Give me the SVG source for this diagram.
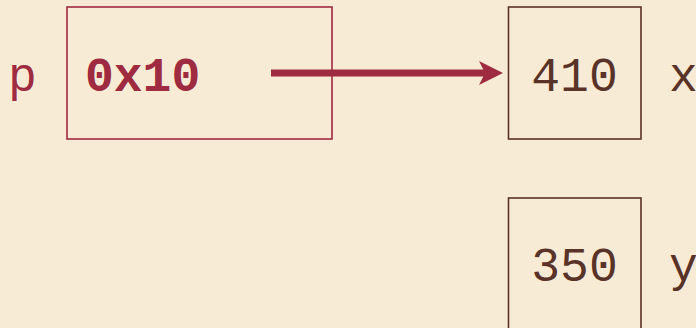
<svg xmlns="http://www.w3.org/2000/svg" width="696" height="328" viewBox="0 0 696 328">
  <defs>
    <style>
      .bg { fill: #F8EBD6; }
      .ptr { fill: none; stroke: #9E2B3F; stroke-width: 1.6; }
      .cell { fill: none; stroke: #5A3328; stroke-width: 1.6; }
      .mono { font-family: "Liberation Mono", "DejaVu Sans Mono", monospace; font-size: 48px; }
      .red { fill: #9E2B3F; }
      .brown { fill: #5A3328; }
      .arrow { stroke: #9E2B3F; stroke-width: 7; fill: none; }
      .arrowhead { fill: #9E2B3F; }
    </style>
  </defs>
  <rect class="bg" x="0" y="0" width="696" height="328"/>

  <g id="node-p">
    <rect class="ptr" x="67" y="7" width="265" height="132"/>
    <text class="mono red" x="8" y="91">p</text>
    <text class="mono red" x="85" y="91" font-weight="bold">0x10</text>
  </g>

  <g id="node-x">
    <rect class="cell" x="508.5" y="7" width="132.5" height="132"/>
    <text class="mono brown" x="574.5" y="91" text-anchor="middle">410</text>
    <text class="mono brown" x="669" y="91">x</text>
  </g>

  <g id="node-y">
    <rect class="cell" x="508.5" y="198" width="132.5" height="140"/>
    <text class="mono brown" x="574.5" y="281" text-anchor="middle">350</text>
    <text class="mono brown" x="669" y="281">y</text>
  </g>

  <g id="connectors">
    <line class="arrow" x1="271" y1="73" x2="486" y2="73"/>
    <path class="arrowhead" d="M479,61 L503,73 L479,85 L485,73 Z"/>
  </g>
</svg>
